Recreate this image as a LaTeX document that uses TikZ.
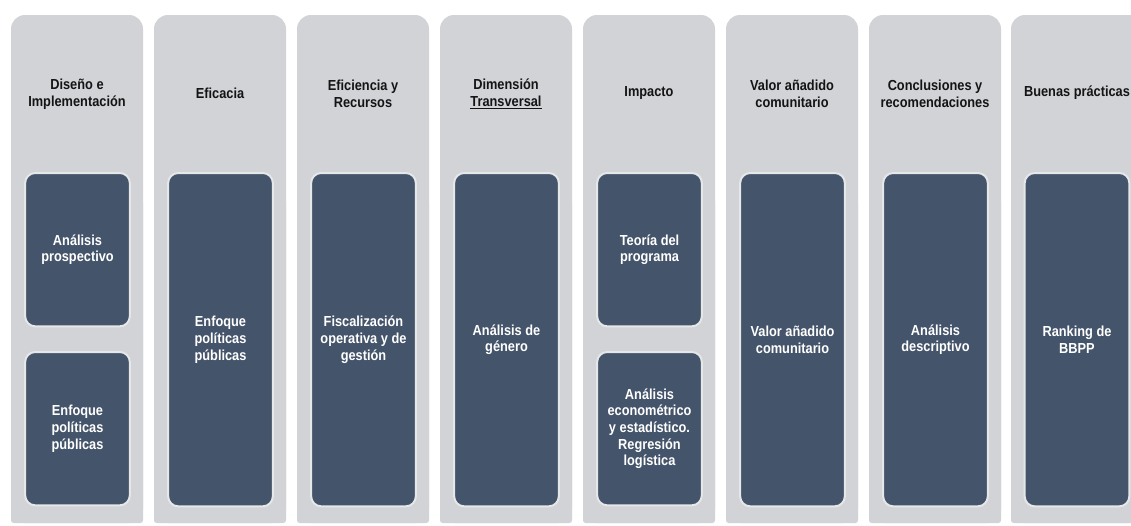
\documentclass[tikz,border=0pt]{standalone}
\usepackage{fontspec}
\setmainfont{Liberation Sans}
\newfontfamily\narrowfont[FakeStretch=0.88]{Liberation Sans}
\definecolor{colgray}{HTML}{D1D3D7}
\definecolor{boxblue}{HTML}{44546A}
\definecolor{boxedge}{HTML}{E6E7E9}
\definecolor{headtxt}{HTML}{141414}
\begin{document}
\begin{tikzpicture}[x=0.75pt,y=-0.75pt,
  colbox/.style={fill=colgray,rounded corners=10.5pt,minimum width=99pt,minimum height=381pt,anchor=north west,inner sep=0pt,outer sep=0pt},
  headtext/.style={font=\narrowfont\fontsize{10.9}{12.5}\selectfont\bfseries,text=headtxt,align=center,inner sep=0pt},
  darkbox/.style={fill=boxblue,draw=boxedge,line width=1.5pt,rounded corners=7.5pt,minimum width=78.5pt,inner sep=0pt,anchor=north,
    font=\narrowfont\fontsize{10.9}{12.5}\selectfont\bfseries,text=white,align=center},
  shortbox/.style={darkbox,minimum height=115pt},
  tallbox/.style={darkbox,minimum height=250pt}]
\useasboundingbox (0,0) rectangle (1131,525);
\fill[white] (0,0) rectangle (1131,525);
% columns
\foreach \L/\n in {11/c1,154/c2,297/c3,440/c4,583/c5,726/c6,869/c7,1011/c8}{
  \node[colbox] (\n) at (\L,15) {};
  \fill[colgray,rounded corners=2pt] (\L,200) rectangle (\L+132,523);
}
% headers
\node[headtext] (h1) at (77,94) {Diseño e\\Implementación};
\node[headtext] (h2) at (220,93) {Eficacia};
\node[headtext] (h3) at (363,94) {Eficiencia y\\Recursos};
\node[headtext] (h4) at (506,94) {Dimensión\\\underline{Transversal}};
\node[headtext] (h5) at (649,93) {Impacto};
\node[headtext] (h6) at (792,94) {Valor añadido\\comunitario};
\node[headtext] (h7) at (935,94) {Conclusiones y\\recomendaciones};
\node[headtext] (h8) at (1077,93) {Buenas prácticas};
% boxes
\node[shortbox] (b1a) at (77.5,172) {Análisis\\prospectivo};
\node[shortbox] (b1b) at (77.5,351) {Enfoque\\políticas\\públicas};
\node[tallbox] (b2) at (220.5,172) {Enfoque\\políticas\\públicas};
\node[tallbox] (b3) at (363.5,172) {Fiscalización\\operativa y de\\gestión};
\node[tallbox] (b4) at (506.5,172) {Análisis de\\género};
\node[shortbox] (b5a) at (649.5,172) {Teoría del\\programa};
\node[shortbox] (b5b) at (649.5,351) {Análisis\\econométrico\\y estadístico.\\Regresión\\logística};
\node[tallbox] (b6) at (792.5,172) {Valor añadido\\comunitario};
\node[tallbox] (b7) at (935.5,172) {Análisis\\descriptivo};
\node[tallbox] (b8) at (1077,172) {Ranking de\\BBPP};
\end{tikzpicture}
\end{document}
